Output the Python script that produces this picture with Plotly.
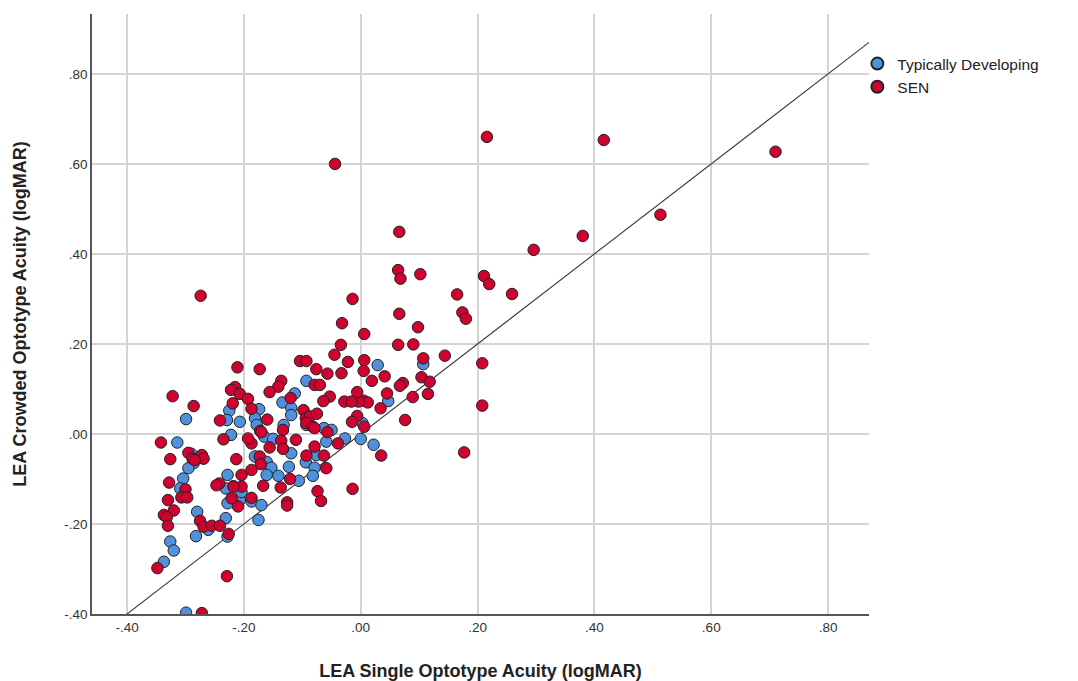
import plotly.graph_objects as go

# LEA single vs crowded optotype acuity (logMAR), per group
td_x = [0.107, 0.029, 0.047, 0.003, 0.000, 0.022, -0.093, -0.113, -0.134, -0.119,
        -0.119, -0.174, -0.181, -0.207, -0.178, -0.132, -0.093, -0.063, -0.050, -0.181,
        -0.165, -0.150, -0.119, -0.161, -0.153, -0.161, -0.141, -0.123, -0.106, -0.187,
        -0.170, -0.175, -0.207, -0.094, -0.076, -0.079, -0.082, -0.059, -0.027, -0.299,
        -0.314, -0.290, -0.286, -0.295, -0.304, -0.309, -0.326, -0.320, -0.337, -0.280,
        -0.261, -0.282, -0.228, -0.299, -0.225, -0.229, -0.222, -0.228, -0.218, -0.231,
        -0.228, -0.204, -0.231]
td_y = [0.155, 0.153, 0.073, 0.024, -0.011, -0.024, 0.118, 0.090, 0.070, 0.058,
        0.042, 0.055, 0.035, 0.027, 0.020, 0.020, 0.020, 0.013, 0.009, -0.050,
        -0.006, -0.011, -0.043, -0.062, -0.075, -0.091, -0.093, -0.073, -0.104, -0.150,
        -0.158, -0.191, -0.147, -0.063, -0.047, -0.075, -0.093, -0.017, -0.010, 0.033,
        -0.019, -0.044, -0.065, -0.076, -0.099, -0.121, -0.239, -0.259, -0.284, -0.173,
        -0.213, -0.227, -0.228, -0.397, 0.052, 0.031, -0.002, -0.091, -0.116, -0.121,
        -0.154, -0.129, -0.187]

sen_x = [0.216, 0.416, 0.710, -0.044, 0.513, 0.296, 0.380, 0.066, -0.274, 0.211,
         0.220, 0.259, 0.165, 0.174, 0.180, -0.014, 0.064, 0.068, 0.102, 0.066,
         0.098, 0.090, 0.064, 0.144, 0.208, 0.208, 0.177, 0.006, -0.032, 0.107,
         0.006, 0.005, 0.041, 0.019, 0.104, 0.118, 0.072, 0.067, 0.045, 0.115,
         0.089, 0.005, 0.012, -0.004, 0.034, 0.076, 0.035,
         -0.211, -0.215, -0.222, -0.207, -0.322, -0.104, -0.093, -0.173, -0.136, -0.141,
         -0.156, -0.120, -0.098, -0.193, -0.187, -0.160, -0.133, -0.172, -0.094,
         -0.034, -0.045, -0.022, -0.076, -0.057, -0.033, -0.079, -0.070, -0.006, -0.053,
         -0.064, -0.028, -0.016, -0.006, -0.015, -0.087, -0.075, -0.093, -0.082, 0.006,
         -0.187, -0.173, -0.170, -0.193, -0.136, -0.111, -0.156, -0.133, -0.171, -0.121,
         -0.167, -0.137, -0.187, -0.126, -0.126, -0.204, -0.204, -0.210, -0.093, -0.079,
         -0.063, -0.059, -0.074, -0.068, -0.014, -0.057, -0.039, -0.079,
         -0.286, -0.342, -0.326, -0.295, -0.288, -0.272, -0.269, -0.284, -0.328, -0.300,
         -0.307, -0.297, -0.330, -0.320, -0.337, -0.332, -0.330, -0.348, -0.275, -0.269,
         -0.255, -0.241, -0.226, -0.229, -0.272, -0.219, -0.241, -0.235, -0.213, -0.242,
         -0.247, -0.218, -0.221, -0.187]
sen_y = [0.660, 0.653, 0.627, 0.600, 0.487, 0.409, 0.440, 0.449, 0.307, 0.351,
         0.333, 0.311, 0.310, 0.270, 0.256, 0.300, 0.364, 0.345, 0.355, 0.267,
         0.237, 0.199, 0.198, 0.174, 0.157, 0.063, -0.041, 0.222, 0.246, 0.168,
         0.164, 0.140, 0.128, 0.118, 0.126, 0.116, 0.113, 0.107, 0.090, 0.089,
         0.082, 0.074, 0.070, 0.072, 0.057, 0.031, -0.048,
         0.148, 0.104, 0.098, 0.089, 0.084, 0.162, 0.162, 0.144, 0.118, 0.105,
         0.093, 0.080, 0.053, 0.078, 0.056, 0.032, 0.009, 0.007, 0.035,
         0.198, 0.176, 0.160, 0.144, 0.134, 0.135, 0.109, 0.109, 0.093, 0.083,
         0.073, 0.072, 0.072, 0.040, 0.027, 0.039, 0.045, 0.024, 0.016, 0.016,
         -0.021, -0.050, 0.004, -0.010, -0.015, -0.013, -0.030, -0.033, -0.067, -0.100,
         -0.115, -0.119, -0.142, -0.152, -0.159, -0.091, -0.117, -0.161, -0.048, -0.028,
         -0.048, -0.076, -0.127, -0.149, -0.122, 0.004, -0.021, 0.013,
         0.062, -0.019, -0.056, -0.042, -0.055, -0.047, -0.055, -0.058, -0.108, -0.123,
         -0.141, -0.141, -0.147, -0.170, -0.180, -0.185, -0.204, -0.298, -0.193, -0.206,
         -0.204, -0.204, -0.222, -0.316, -0.398, 0.068, 0.030, -0.012, -0.056, -0.110,
         -0.114, -0.117, -0.143, -0.080]

tick_vals = [-0.40, -0.20, 0.00, 0.20, 0.40, 0.60, 0.80]
tick_text = ["-.40", "-.20", ".00", ".20", ".40", ".60", ".80"]
ref_line = [-0.46, 0.95]  # identity line y = x

FONT = "Liberation Sans"
marker_line = dict(color="#222222", width=1)

fig = go.Figure()
fig.add_trace(go.Scatter(
    x=ref_line, y=ref_line, mode="lines",
    line=dict(color="#3a3a3a", width=1.1),
    showlegend=False, hoverinfo="skip"))
fig.add_trace(go.Scatter(
    x=td_x, y=td_y, mode="markers", name="Typically Developing",
    marker=dict(size=11.5, color="#4f91dc", line=marker_line)))
fig.add_trace(go.Scatter(
    x=sen_x, y=sen_y, mode="markers", name="SEN",
    marker=dict(size=11.5, color="#d0022f", line=marker_line)))

axis_common = dict(
    tickvals=tick_vals, ticktext=tick_text,
    showgrid=True, gridcolor="#d4d4d4", gridwidth=1.5,
    zeroline=False, showline=True, linecolor="#555555", linewidth=1.5,
    ticks="", tickfont=dict(family=FONT, size=13.5, color="#333333"),
    automargin=False,
)

fig.update_layout(
    width=1078, height=681,
    margin=dict(l=92, r=209, t=14, b=67),
    plot_bgcolor="white", paper_bgcolor="white",
    font=dict(family=FONT, color="#222222"),
    xaxis=dict(range=[-0.46, 0.87], **axis_common,
               title=dict(text="<b>LEA Single Optotype Acuity (logMAR)</b>",
                          font=dict(family=FONT, size=18, color="#222222"),
                          standoff=35)),
    yaxis=dict(range=[-0.40, 0.933], **axis_common,
               title=dict(text="<b>LEA Crowded Optotype Acuity (logMAR)</b>",
                          font=dict(family=FONT, size=18, color="#222222"),
                          standoff=33)),
    legend=dict(x=0.985, y=0.945, xanchor="left", yanchor="top",
                font=dict(family=FONT, size=15.5, color="#222222"),
                bgcolor="rgba(0,0,0,0)", itemsizing="constant",
                itemwidth=30, tracegroupgap=0),
    showlegend=True,
)

fig.write_html("out.html")
